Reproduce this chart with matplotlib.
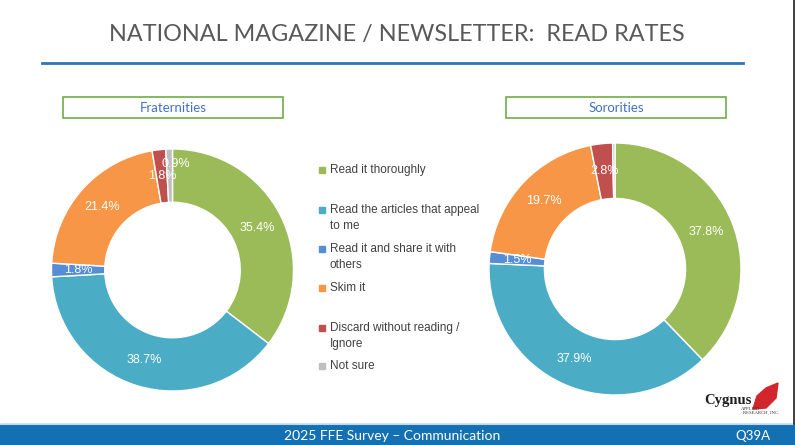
import matplotlib.pyplot as plt
from matplotlib.patches import Rectangle, Polygon

categories = ['Read it thoroughly', 'Read the articles that appeal\nto me',
              'Read it and share it with\nothers', 'Skim it',
              'Discard without reading /\nIgnore', 'Not sure']
colors = ['#9BBB59', '#4BACC6', '#558ED5', '#F79646', '#C0504D', '#BFBFBF']
frat = [35.4, 38.7, 1.8, 21.4, 1.8, 0.9]
soro = [37.8, 37.9, 1.5, 19.7, 2.8, 0.3]

W, H = 795, 445
fig = plt.figure(figsize=(W / 100, H / 100), dpi=100)
bg = fig.add_axes([0, 0, 1, 1])
bg.set_xlim(0, W)
bg.set_ylim(H, 0)
bg.axis('off')

# title + rule
bg.text(397, 34, 'NATIONAL MAGAZINE / NEWSLETTER:  READ RATES', ha='center', va='center',
        fontsize=16.8, color='#595959', family='Lato')
bg.plot([42, 743], [63, 63], color='#2E75B6', lw=2)

# footer band
bg.add_patch(Rectangle((0, 424), W, 21, color='#1371B3'))
bg.plot([0, W], [423.5, 423.5], color='#BDD7EE', lw=0.8)
bg.text(392, 436, '2025 FFE Survey \u2013 Communication', ha='center', va='center',
        fontsize=10, color='white', family='Lato')
bg.text(753, 436, 'Q39A', ha='center', va='center', fontsize=9.5, color='white', family='Lato')
bg.plot([794, 794], [0, 424], color='#202020', lw=1.2)

# logo
bg.text(752, 404, 'Cygnus', ha='right', va='baseline', fontsize=10.5, color='#1F1F1F',
        family='Liberation Serif', weight='bold')
bg.text(760, 410, 'APPLIED', ha='right', va='baseline', fontsize=3.4, color='#333333',
        family='Liberation Serif')
bg.text(779, 414, 'RESEARCH, INC.', ha='right', va='baseline', fontsize=3.4, color='#333333',
        family='Liberation Serif')
bg.add_patch(Polygon([[753, 409], [757, 396], [766, 388], [778, 383], [776, 398], [766, 408]],
                     closed=True, color='#D0262C'))

# title boxes
for x0, name in [(63, 'Fraternities'), (506, 'Sororities')]:
    bg.add_patch(Rectangle((x0, 97), 220, 21, fill=False, ec='#70AD47', lw=1.2))
    bg.text(x0 + 110, 108, name, ha='center', va='center', fontsize=9.5,
            color='#4472C4', family='Lato')

# legend
leg_y = [170, 218, 257, 288, 336, 366]
for lab, c, y in zip(categories, colors, leg_y):
    n = lab.count('\n')
    y0 = y - 8 * n
    bg.add_patch(Rectangle((319, y0 - 3), 6, 6, color=c))
    bg.text(330, y, lab, ha='left', va='center', fontsize=8.5, color='#404040',
            family='Liberation Sans', linespacing=1.45)


def donut(cx, cy, r, vals, hide_below=0.5):
    ax = fig.add_axes([(cx - r) / W, (H - cy - r) / H, 2 * r / W, 2 * r / H])
    wedges, texts, autos = ax.pie(vals, colors=colors, startangle=90, counterclock=False,
                                  radius=1, pctdistance=0.78,
                                  autopct=lambda p: '%.1f%%' % p if p >= hide_below else '',
                                  wedgeprops=dict(width=0.44, edgecolor='white', linewidth=1),
                                  textprops=dict(color='white', fontsize=9, family='Liberation Sans'))
    ax.set_xlim(-1, 1)
    ax.set_ylim(-1, 1)
    ax.axis('off')
    return autos


autos = donut(172.5, 270, 121, frat)
# Excel nudges the tiny "Not sure" label outward
autos[5].set_position((0.03, 0.88))

donut(615, 269, 126, soro)

fig.savefig('out.png', dpi=100)
